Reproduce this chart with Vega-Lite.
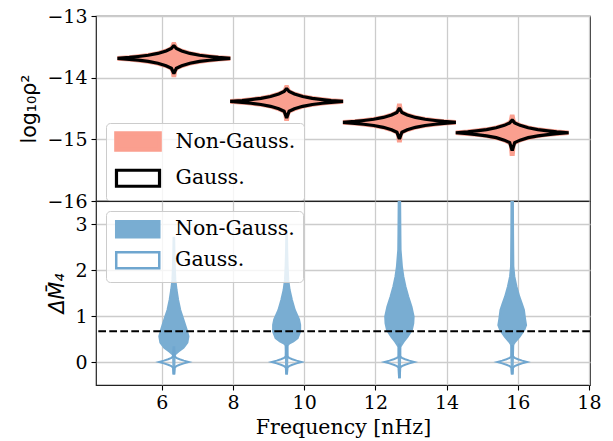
{
  "$schema": "https://vega.github.io/schema/vega-lite/v6.json",
  "padding": {"left": 19, "top": 6, "right": 5, "bottom": 3},
  "autosize": {"type": "pad"},
  "spacing": 0,
  "bounds": "flush",
  "datasets": {
    "top": [
      {"g":1,"t":"N","v":-13.957,"lo":6.328,"hi":6.348},
      {"g":1,"t":"N","v":-13.887,"lo":6.308,"hi":6.368},
      {"g":1,"t":"N","v":-13.847,"lo":6.268,"hi":6.408},
      {"g":1,"t":"N","v":-13.807,"lo":6.118,"hi":6.558},
      {"g":1,"t":"N","v":-13.767,"lo":5.888,"hi":6.788},
      {"g":1,"t":"N","v":-13.737,"lo":5.618,"hi":7.058},
      {"g":1,"t":"N","v":-13.717,"lo":5.338,"hi":7.338},
      {"g":1,"t":"N","v":-13.702,"lo":5.088,"hi":7.588},
      {"g":1,"t":"N","v":-13.687,"lo":4.753,"hi":7.923},
      {"g":1,"t":"N","v":-13.672,"lo":5.088,"hi":7.588},
      {"g":1,"t":"N","v":-13.657,"lo":5.338,"hi":7.338},
      {"g":1,"t":"N","v":-13.637,"lo":5.618,"hi":7.058},
      {"g":1,"t":"N","v":-13.607,"lo":5.888,"hi":6.788},
      {"g":1,"t":"N","v":-13.567,"lo":6.118,"hi":6.558},
      {"g":1,"t":"N","v":-13.527,"lo":6.268,"hi":6.408},
      {"g":1,"t":"N","v":-13.487,"lo":6.308,"hi":6.368},
      {"g":1,"t":"N","v":-13.457,"lo":6.328,"hi":6.348},

      {"g":2,"t":"N","v":-14.665,"lo":9.496,"hi":9.516},
      {"g":2,"t":"N","v":-14.585,"lo":9.476,"hi":9.536},
      {"g":2,"t":"N","v":-14.545,"lo":9.436,"hi":9.576},
      {"g":2,"t":"N","v":-14.505,"lo":9.286,"hi":9.726},
      {"g":2,"t":"N","v":-14.465,"lo":9.056,"hi":9.956},
      {"g":2,"t":"N","v":-14.435,"lo":8.786,"hi":10.226},
      {"g":2,"t":"N","v":-14.415,"lo":8.506,"hi":10.506},
      {"g":2,"t":"N","v":-14.4,"lo":8.256,"hi":10.756},
      {"g":2,"t":"N","v":-14.385,"lo":7.921,"hi":11.091},
      {"g":2,"t":"N","v":-14.37,"lo":8.256,"hi":10.756},
      {"g":2,"t":"N","v":-14.355,"lo":8.506,"hi":10.506},
      {"g":2,"t":"N","v":-14.335,"lo":8.786,"hi":10.226},
      {"g":2,"t":"N","v":-14.305,"lo":9.056,"hi":9.956},
      {"g":2,"t":"N","v":-14.265,"lo":9.286,"hi":9.726},
      {"g":2,"t":"N","v":-14.225,"lo":9.436,"hi":9.576},
      {"g":2,"t":"N","v":-14.185,"lo":9.476,"hi":9.536},
      {"g":2,"t":"N","v":-14.155,"lo":9.496,"hi":9.516},

      {"g":3,"t":"N","v":-15.015,"lo":12.665,"hi":12.685},
      {"g":3,"t":"N","v":-14.925,"lo":12.645,"hi":12.705},
      {"g":3,"t":"N","v":-14.885,"lo":12.605,"hi":12.745},
      {"g":3,"t":"N","v":-14.845,"lo":12.455,"hi":12.895},
      {"g":3,"t":"N","v":-14.805,"lo":12.225,"hi":13.125},
      {"g":3,"t":"N","v":-14.775,"lo":11.955,"hi":13.395},
      {"g":3,"t":"N","v":-14.755,"lo":11.675,"hi":13.675},
      {"g":3,"t":"N","v":-14.74,"lo":11.425,"hi":13.925},
      {"g":3,"t":"N","v":-14.725,"lo":11.09,"hi":14.26},
      {"g":3,"t":"N","v":-14.71,"lo":11.425,"hi":13.925},
      {"g":3,"t":"N","v":-14.695,"lo":11.675,"hi":13.675},
      {"g":3,"t":"N","v":-14.675,"lo":11.955,"hi":13.395},
      {"g":3,"t":"N","v":-14.645,"lo":12.225,"hi":13.125},
      {"g":3,"t":"N","v":-14.605,"lo":12.455,"hi":12.895},
      {"g":3,"t":"N","v":-14.565,"lo":12.605,"hi":12.745},
      {"g":3,"t":"N","v":-14.525,"lo":12.645,"hi":12.705},
      {"g":3,"t":"N","v":-14.455,"lo":12.665,"hi":12.685},

      {"g":4,"t":"N","v":-15.233,"lo":15.834,"hi":15.854},
      {"g":4,"t":"N","v":-15.093,"lo":15.814,"hi":15.874},
      {"g":4,"t":"N","v":-15.053,"lo":15.774,"hi":15.914},
      {"g":4,"t":"N","v":-15.013,"lo":15.624,"hi":16.064},
      {"g":4,"t":"N","v":-14.973,"lo":15.394,"hi":16.294},
      {"g":4,"t":"N","v":-14.943,"lo":15.124,"hi":16.564},
      {"g":4,"t":"N","v":-14.923,"lo":14.844,"hi":16.844},
      {"g":4,"t":"N","v":-14.908,"lo":14.594,"hi":17.094},
      {"g":4,"t":"N","v":-14.893,"lo":14.259,"hi":17.429},
      {"g":4,"t":"N","v":-14.878,"lo":14.594,"hi":17.094},
      {"g":4,"t":"N","v":-14.863,"lo":14.844,"hi":16.844},
      {"g":4,"t":"N","v":-14.843,"lo":15.124,"hi":16.564},
      {"g":4,"t":"N","v":-14.813,"lo":15.394,"hi":16.294},
      {"g":4,"t":"N","v":-14.773,"lo":15.624,"hi":16.064},
      {"g":4,"t":"N","v":-14.733,"lo":15.774,"hi":15.914},
      {"g":4,"t":"N","v":-14.693,"lo":15.814,"hi":15.874},
      {"g":4,"t":"N","v":-14.633,"lo":15.834,"hi":15.854},

      {"g":1,"t":"G","v":-13.917,"lo":6.326,"hi":6.35},
      {"g":1,"t":"G","v":-13.847,"lo":6.268,"hi":6.408},
      {"g":1,"t":"G","v":-13.807,"lo":6.118,"hi":6.558},
      {"g":1,"t":"G","v":-13.767,"lo":5.888,"hi":6.788},
      {"g":1,"t":"G","v":-13.737,"lo":5.618,"hi":7.058},
      {"g":1,"t":"G","v":-13.717,"lo":5.338,"hi":7.338},
      {"g":1,"t":"G","v":-13.702,"lo":5.088,"hi":7.588},
      {"g":1,"t":"G","v":-13.687,"lo":4.753,"hi":7.923},
      {"g":1,"t":"G","v":-13.672,"lo":5.088,"hi":7.588},
      {"g":1,"t":"G","v":-13.657,"lo":5.338,"hi":7.338},
      {"g":1,"t":"G","v":-13.637,"lo":5.618,"hi":7.058},
      {"g":1,"t":"G","v":-13.607,"lo":5.888,"hi":6.788},
      {"g":1,"t":"G","v":-13.567,"lo":6.118,"hi":6.558},
      {"g":1,"t":"G","v":-13.527,"lo":6.268,"hi":6.408},
      {"g":1,"t":"G","v":-13.487,"lo":6.326,"hi":6.35},

      {"g":2,"t":"G","v":-14.635,"lo":9.494,"hi":9.518},
      {"g":2,"t":"G","v":-14.545,"lo":9.436,"hi":9.576},
      {"g":2,"t":"G","v":-14.505,"lo":9.286,"hi":9.726},
      {"g":2,"t":"G","v":-14.465,"lo":9.056,"hi":9.956},
      {"g":2,"t":"G","v":-14.435,"lo":8.786,"hi":10.226},
      {"g":2,"t":"G","v":-14.415,"lo":8.506,"hi":10.506},
      {"g":2,"t":"G","v":-14.4,"lo":8.256,"hi":10.756},
      {"g":2,"t":"G","v":-14.385,"lo":7.921,"hi":11.091},
      {"g":2,"t":"G","v":-14.37,"lo":8.256,"hi":10.756},
      {"g":2,"t":"G","v":-14.355,"lo":8.506,"hi":10.506},
      {"g":2,"t":"G","v":-14.335,"lo":8.786,"hi":10.226},
      {"g":2,"t":"G","v":-14.305,"lo":9.056,"hi":9.956},
      {"g":2,"t":"G","v":-14.265,"lo":9.286,"hi":9.726},
      {"g":2,"t":"G","v":-14.225,"lo":9.436,"hi":9.576},
      {"g":2,"t":"G","v":-14.185,"lo":9.494,"hi":9.518},

      {"g":3,"t":"G","v":-14.975,"lo":12.663,"hi":12.687},
      {"g":3,"t":"G","v":-14.885,"lo":12.605,"hi":12.745},
      {"g":3,"t":"G","v":-14.845,"lo":12.455,"hi":12.895},
      {"g":3,"t":"G","v":-14.805,"lo":12.225,"hi":13.125},
      {"g":3,"t":"G","v":-14.775,"lo":11.955,"hi":13.395},
      {"g":3,"t":"G","v":-14.755,"lo":11.675,"hi":13.675},
      {"g":3,"t":"G","v":-14.74,"lo":11.425,"hi":13.925},
      {"g":3,"t":"G","v":-14.725,"lo":11.09,"hi":14.26},
      {"g":3,"t":"G","v":-14.71,"lo":11.425,"hi":13.925},
      {"g":3,"t":"G","v":-14.695,"lo":11.675,"hi":13.675},
      {"g":3,"t":"G","v":-14.675,"lo":11.955,"hi":13.395},
      {"g":3,"t":"G","v":-14.645,"lo":12.225,"hi":13.125},
      {"g":3,"t":"G","v":-14.605,"lo":12.455,"hi":12.895},
      {"g":3,"t":"G","v":-14.565,"lo":12.605,"hi":12.745},
      {"g":3,"t":"G","v":-14.505,"lo":12.663,"hi":12.687},

      {"g":4,"t":"G","v":-15.163,"lo":15.832,"hi":15.856},
      {"g":4,"t":"G","v":-15.053,"lo":15.774,"hi":15.914},
      {"g":4,"t":"G","v":-15.013,"lo":15.624,"hi":16.064},
      {"g":4,"t":"G","v":-14.973,"lo":15.394,"hi":16.294},
      {"g":4,"t":"G","v":-14.943,"lo":15.124,"hi":16.564},
      {"g":4,"t":"G","v":-14.923,"lo":14.844,"hi":16.844},
      {"g":4,"t":"G","v":-14.908,"lo":14.594,"hi":17.094},
      {"g":4,"t":"G","v":-14.893,"lo":14.259,"hi":17.429},
      {"g":4,"t":"G","v":-14.878,"lo":14.594,"hi":17.094},
      {"g":4,"t":"G","v":-14.863,"lo":14.844,"hi":16.844},
      {"g":4,"t":"G","v":-14.843,"lo":15.124,"hi":16.564},
      {"g":4,"t":"G","v":-14.813,"lo":15.394,"hi":16.294},
      {"g":4,"t":"G","v":-14.773,"lo":15.624,"hi":16.064},
      {"g":4,"t":"G","v":-14.733,"lo":15.774,"hi":15.914},
      {"g":4,"t":"G","v":-14.693,"lo":15.832,"hi":15.856}
    ],
    "bot": [
      {"g":1,"t":"N","v":-0.25,"lo":6.326,"hi":6.35},
      {"g":1,"t":"N","v":0.1,"lo":6.318,"hi":6.358},
      {"g":1,"t":"N","v":0.16,"lo":6.308,"hi":6.368},
      {"g":1,"t":"N","v":0.18,"lo":6.282,"hi":6.394},
      {"g":1,"t":"N","v":0.23,"lo":6.208,"hi":6.468},
      {"g":1,"t":"N","v":0.31,"lo":6.068,"hi":6.608},
      {"g":1,"t":"N","v":0.42,"lo":5.958,"hi":6.718},
      {"g":1,"t":"N","v":0.56,"lo":5.928,"hi":6.748},
      {"g":1,"t":"N","v":0.70,"lo":5.978,"hi":6.698},
      {"g":1,"t":"N","v":0.92,"lo":6.068,"hi":6.608},
      {"g":1,"t":"N","v":1.13,"lo":6.158,"hi":6.518},
      {"g":1,"t":"N","v":1.35,"lo":6.218,"hi":6.458},
      {"g":1,"t":"N","v":1.57,"lo":6.263,"hi":6.413},
      {"g":1,"t":"N","v":1.785,"lo":6.296,"hi":6.38},
      {"g":1,"t":"N","v":2.1,"lo":6.313,"hi":6.363},
      {"g":1,"t":"N","v":2.4,"lo":6.322,"hi":6.354},
      {"g":1,"t":"N","v":2.7,"lo":6.328,"hi":6.348},

      {"g":2,"t":"N","v":-0.25,"lo":9.494,"hi":9.518},
      {"g":2,"t":"N","v":0.1,"lo":9.486,"hi":9.526},
      {"g":2,"t":"N","v":0.36,"lo":9.476,"hi":9.536},
      {"g":2,"t":"N","v":0.40,"lo":9.436,"hi":9.576},
      {"g":2,"t":"N","v":0.45,"lo":9.316,"hi":9.696},
      {"g":2,"t":"N","v":0.52,"lo":9.196,"hi":9.816},
      {"g":2,"t":"N","v":0.66,"lo":9.126,"hi":9.886},
      {"g":2,"t":"N","v":0.81,"lo":9.126,"hi":9.886},
      {"g":2,"t":"N","v":0.92,"lo":9.156,"hi":9.856},
      {"g":2,"t":"N","v":1.13,"lo":9.276,"hi":9.736},
      {"g":2,"t":"N","v":1.35,"lo":9.356,"hi":9.656},
      {"g":2,"t":"N","v":1.57,"lo":9.422,"hi":9.59},
      {"g":2,"t":"N","v":1.785,"lo":9.459,"hi":9.553},
      {"g":2,"t":"N","v":2.1,"lo":9.478,"hi":9.534},
      {"g":2,"t":"N","v":2.45,"lo":9.49,"hi":9.522},
      {"g":2,"t":"N","v":2.8,"lo":9.496,"hi":9.516},

      {"g":3,"t":"N","v":-0.33,"lo":12.663,"hi":12.687},
      {"g":3,"t":"N","v":0.1,"lo":12.655,"hi":12.695},
      {"g":3,"t":"N","v":0.33,"lo":12.645,"hi":12.705},
      {"g":3,"t":"N","v":0.37,"lo":12.615,"hi":12.735},
      {"g":3,"t":"N","v":0.44,"lo":12.555,"hi":12.795},
      {"g":3,"t":"N","v":0.55,"lo":12.445,"hi":12.905},
      {"g":3,"t":"N","v":0.70,"lo":12.325,"hi":13.025},
      {"g":3,"t":"N","v":0.84,"lo":12.285,"hi":13.065},
      {"g":3,"t":"N","v":0.99,"lo":12.275,"hi":13.075},
      {"g":3,"t":"N","v":1.20,"lo":12.335,"hi":13.015},
      {"g":3,"t":"N","v":1.42,"lo":12.425,"hi":12.925},
      {"g":3,"t":"N","v":1.64,"lo":12.505,"hi":12.845},
      {"g":3,"t":"N","v":1.86,"lo":12.565,"hi":12.785},
      {"g":3,"t":"N","v":2.08,"lo":12.605,"hi":12.745},
      {"g":3,"t":"N","v":2.44,"lo":12.642,"hi":12.708},
      {"g":3,"t":"N","v":2.8,"lo":12.647,"hi":12.703},
      {"g":3,"t":"N","v":3.6,"lo":12.655,"hi":12.695},

      {"g":4,"t":"N","v":-0.25,"lo":15.832,"hi":15.856},
      {"g":4,"t":"N","v":0.1,"lo":15.824,"hi":15.864},
      {"g":4,"t":"N","v":0.36,"lo":15.814,"hi":15.874},
      {"g":4,"t":"N","v":0.39,"lo":15.804,"hi":15.884},
      {"g":4,"t":"N","v":0.44,"lo":15.759,"hi":15.929},
      {"g":4,"t":"N","v":0.55,"lo":15.634,"hi":16.054},
      {"g":4,"t":"N","v":0.70,"lo":15.504,"hi":16.184},
      {"g":4,"t":"N","v":0.80,"lo":15.454,"hi":16.234},
      {"g":4,"t":"N","v":0.95,"lo":15.484,"hi":16.204},
      {"g":4,"t":"N","v":1.13,"lo":15.514,"hi":16.174},
      {"g":4,"t":"N","v":1.27,"lo":15.574,"hi":16.114},
      {"g":4,"t":"N","v":1.42,"lo":15.644,"hi":16.044},
      {"g":4,"t":"N","v":1.64,"lo":15.724,"hi":15.964},
      {"g":4,"t":"N","v":1.86,"lo":15.784,"hi":15.904},
      {"g":4,"t":"N","v":2.08,"lo":15.811,"hi":15.877},
      {"g":4,"t":"N","v":2.8,"lo":15.819,"hi":15.869},
      {"g":4,"t":"N","v":3.6,"lo":15.824,"hi":15.864},

      {"g":1,"t":"G","v":-0.25,"lo":6.328,"hi":6.348},
      {"g":1,"t":"G","v":-0.12,"lo":6.313,"hi":6.363},
      {"g":1,"t":"G","v":-0.09,"lo":6.268,"hi":6.408},
      {"g":1,"t":"G","v":-0.06,"lo":6.178,"hi":6.498},
      {"g":1,"t":"G","v":-0.03,"lo":6.058,"hi":6.618},
      {"g":1,"t":"G","v":0,"lo":5.918,"hi":6.758},
      {"g":1,"t":"G","v":0.03,"lo":6.058,"hi":6.618},
      {"g":1,"t":"G","v":0.06,"lo":6.178,"hi":6.498},
      {"g":1,"t":"G","v":0.09,"lo":6.268,"hi":6.408},
      {"g":1,"t":"G","v":0.12,"lo":6.313,"hi":6.363},
      {"g":1,"t":"G","v":0.32,"lo":6.328,"hi":6.348},

      {"g":2,"t":"G","v":-0.25,"lo":9.496,"hi":9.516},
      {"g":2,"t":"G","v":-0.12,"lo":9.481,"hi":9.531},
      {"g":2,"t":"G","v":-0.09,"lo":9.436,"hi":9.576},
      {"g":2,"t":"G","v":-0.06,"lo":9.346,"hi":9.666},
      {"g":2,"t":"G","v":-0.03,"lo":9.226,"hi":9.786},
      {"g":2,"t":"G","v":0,"lo":9.086,"hi":9.926},
      {"g":2,"t":"G","v":0.03,"lo":9.226,"hi":9.786},
      {"g":2,"t":"G","v":0.06,"lo":9.346,"hi":9.666},
      {"g":2,"t":"G","v":0.09,"lo":9.436,"hi":9.576},
      {"g":2,"t":"G","v":0.12,"lo":9.481,"hi":9.531},
      {"g":2,"t":"G","v":0.35,"lo":9.496,"hi":9.516},

      {"g":3,"t":"G","v":-0.33,"lo":12.665,"hi":12.685},
      {"g":3,"t":"G","v":-0.12,"lo":12.65,"hi":12.7},
      {"g":3,"t":"G","v":-0.09,"lo":12.605,"hi":12.745},
      {"g":3,"t":"G","v":-0.06,"lo":12.515,"hi":12.835},
      {"g":3,"t":"G","v":-0.03,"lo":12.395,"hi":12.955},
      {"g":3,"t":"G","v":0,"lo":12.255,"hi":13.095},
      {"g":3,"t":"G","v":0.03,"lo":12.395,"hi":12.955},
      {"g":3,"t":"G","v":0.06,"lo":12.515,"hi":12.835},
      {"g":3,"t":"G","v":0.09,"lo":12.605,"hi":12.745},
      {"g":3,"t":"G","v":0.12,"lo":12.65,"hi":12.7},
      {"g":3,"t":"G","v":0.38,"lo":12.665,"hi":12.685},

      {"g":4,"t":"G","v":-0.25,"lo":15.834,"hi":15.854},
      {"g":4,"t":"G","v":-0.12,"lo":15.819,"hi":15.869},
      {"g":4,"t":"G","v":-0.09,"lo":15.774,"hi":15.914},
      {"g":4,"t":"G","v":-0.06,"lo":15.684,"hi":16.004},
      {"g":4,"t":"G","v":-0.03,"lo":15.564,"hi":16.124},
      {"g":4,"t":"G","v":0,"lo":15.424,"hi":16.264},
      {"g":4,"t":"G","v":0.03,"lo":15.564,"hi":16.124},
      {"g":4,"t":"G","v":0.06,"lo":15.684,"hi":16.004},
      {"g":4,"t":"G","v":0.09,"lo":15.774,"hi":15.914},
      {"g":4,"t":"G","v":0.12,"lo":15.819,"hi":15.869},
      {"g":4,"t":"G","v":0.35,"lo":15.834,"hi":15.854}
    ]
  },
  "vconcat": [
    {
      "width": 494,
      "height": 185,
      "data": {"name": "top"},
      "mark": {"type": "area", "orient": "horizontal", "clip": true, "opacity": 1},
      "encoding": {
        "y": {"field": "v", "type": "quantitative",
              "scale": {"domain": [-16, -13], "nice": false, "zero": false},
              "axis": {"title": "log₁₀ρ²", "titleFont": "DejaVu Sans", "values": [-16, -15, -14, -13], "format": "d"}},
        "x": {"field": "lo", "type": "quantitative",
              "scale": {"domain": [4.15, 18.03], "nice": false, "zero": false},
              "axis": {"labels": false, "ticks": false, "title": null, "values": [6, 8, 10, 12, 14, 16, 18]}},
        "x2": {"field": "hi"},
        "detail": {"field": "g"},
        "fill": {"field": "t", "type": "nominal",
                 "scale": {"domain": ["N", "G"], "range": ["#fa9f8f", "transparent"]},
                 "legend": {"orient": "none", "legendX": 10, "legendY": 107, "title": null,
                            "labelExpr": "datum.label == 'N' ? 'Non-Gauss.' : 'Gauss.'"}},
        "stroke": {"field": "t", "type": "nominal",
                   "scale": {"domain": ["N", "G"], "range": ["#fa9f8f", "black"]}},
        "strokeWidth": {"field": "t", "type": "nominal",
                        "scale": {"type": "ordinal", "domain": ["N", "G"], "range": [4.6, 3.2]}, "legend": null}
      }
    },
    {
      "width": 494,
      "height": 184,
      "layer": [
        {
          "data": {"name": "bot"},
          "mark": {"type": "area", "orient": "horizontal", "strokeWidth": 2, "clip": true, "opacity": 1},
          "encoding": {
            "y": {"field": "v", "type": "quantitative",
                  "scale": {"domain": [-0.5, 3.5], "nice": false, "zero": false},
                  "axis": {"title": "ΔM̄₄", "titleFont": "DejaVu Sans", "titleFontStyle": "italic", "values": [0, 1, 2, 3]}},
            "x": {"field": "lo", "type": "quantitative",
                  "scale": {"domain": [4.15, 18.03], "nice": false, "zero": false},
                  "axis": {"title": "Frequency [nHz]", "values": [6, 8, 10, 12, 14, 16, 18], "labelPadding": 3, "titlePadding": 5}},
            "x2": {"field": "hi"},
            "detail": {"field": "g"},
            "fill": {"field": "t", "type": "nominal",
                     "scale": {"domain": ["N", "G"], "range": ["#79add2", "transparent"]},
                     "legend": {"orient": "none", "legendX": 10, "legendY": 10, "title": null,
                                "labelExpr": "datum.label == 'N' ? 'Non-Gauss.' : 'Gauss.'"}},
            "stroke": {"field": "t", "type": "nominal",
                       "scale": {"domain": ["N", "G"], "range": ["#79add2", "#6fa6cf"]}}
          }
        },
        {
          "data": {"values": [{"thr": 0.67}]},
          "mark": {"type": "rule", "color": "black", "strokeWidth": 2, "strokeDash": [7.7, 3.3]},
          "encoding": {"y": {"field": "thr", "type": "quantitative"}}
        }
      ]
    }
  ],
  "resolve": {
    "scale": {"x": "independent", "y": "independent", "fill": "independent", "stroke": "independent", "strokeWidth": "independent"},
    "legend": {"fill": "independent", "stroke": "independent"}
  },
  "config": {
    "font": "DejaVu Serif",
    "view": {"stroke": "#222222", "strokeWidth": 1.2},
    "axis": {
      "labelFont": "DejaVu Serif", "labelFontSize": 19, "labelColor": "black",
      "titleFont": "DejaVu Serif", "titleFontSize": 20.5, "titleFontWeight": "normal", "titleColor": "black",
      "tickColor": "black", "tickSize": 5, "tickWidth": 1.1, "labelPadding": 4,
      "domain": false, "gridColor": "#cccccc", "gridWidth": 1.3, "titlePadding": 7,
      "labelFlush": false, "labelOverlap": false
    },
    "legend": {
      "labelFont": "DejaVu Serif", "labelFontSize": 20.5, "labelColor": "black",
      "symbolType": "M-2.69,-1H2.69V1H-2.69Z", "symbolSize": 256, "symbolOffset": 13.5,
      "labelOffset": 27, "symbolStrokeWidth": 2.5, "padding": 8, "rowPadding": 4,
      "fillColor": "rgba(255,255,255,0.8)", "strokeColor": "#cccccc", "cornerRadius": 4
    }
  }
}
